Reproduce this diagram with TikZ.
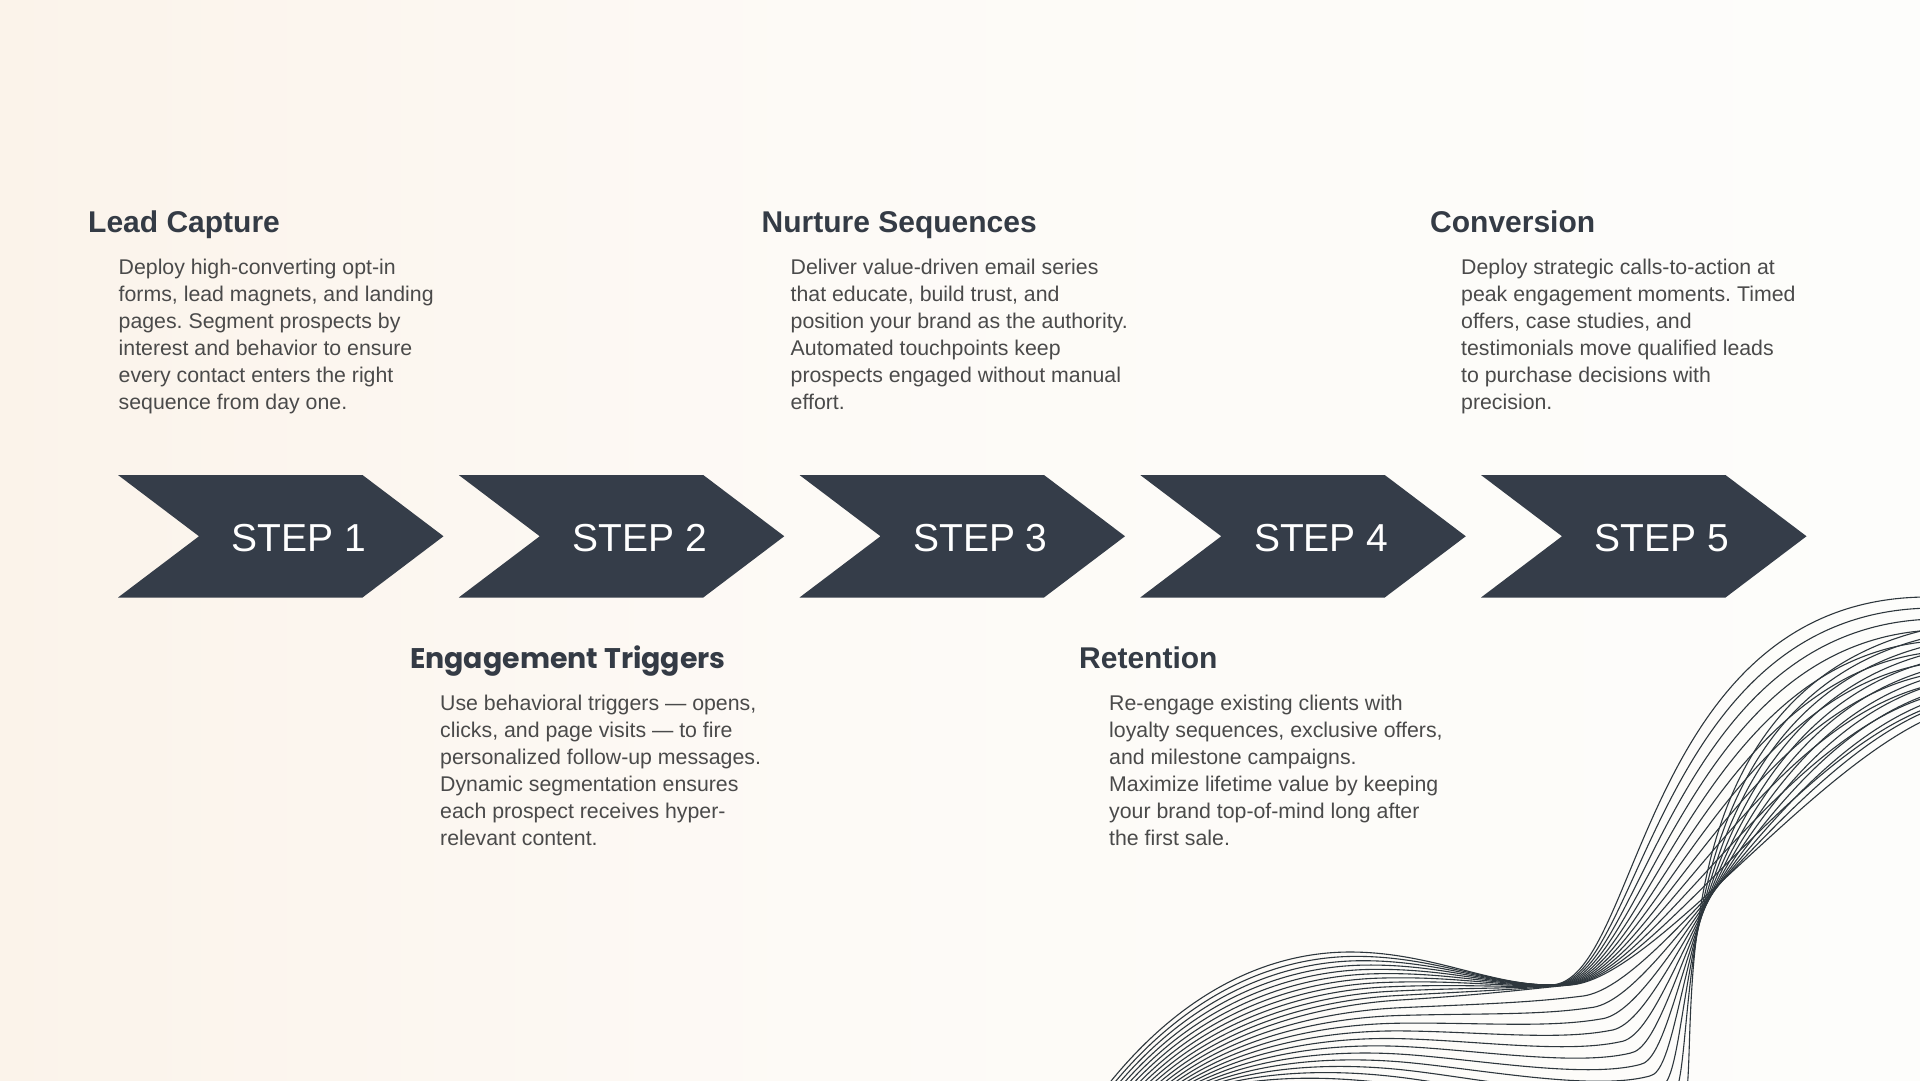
\documentclass[tikz,border=0pt]{standalone}
\usepackage{fontspec}
\setmainfont{Liberation Sans}
\newfontfamily\poppins{Poppins}
\usetikzlibrary{calc}
\definecolor{chevc}{HTML}{353D49}
\definecolor{titlec}{HTML}{343B45}
\definecolor{bodyc}{HTML}{4A4A4A}
\definecolor{wavec}{HTML}{2E373D}
\definecolor{bgA}{HTML}{FBF3EA}
\definecolor{bgB}{HTML}{FDFAF6}
\definecolor{bgC}{HTML}{FDFDFB}
\frenchspacing
\tikzset{
  ttl/.style={anchor=base west, inner sep=0pt, text=titlec, font=\fontsize{30}{36}\selectfont\bfseries},
  ettl/.style={anchor=base west, inner sep=0pt, text=titlec, font=\poppins\fontsize{28.4}{34}\selectfont\bfseries},
  bodytxt/.style={anchor=base west, inner sep=0pt, text=bodyc, font=\fontsize{21.3}{27}\selectfont},
  steplabel/.style={anchor=base, inner sep=0pt, text=white, font=\fontsize{39}{44}\selectfont},
  chevfill/.style={fill=chevc},
  wave/.style={draw=wavec, line width=1.1pt}
}
\begin{document}
\begin{tikzpicture}[x=1pt,y=-1pt]
\useasboundingbox (0,0) rectangle (1920,1080);
\shade[left color=bgA, right color=bgB] (0,0) rectangle (800,1080);
\shade[left color=bgB, right color=bgC] (799,0) rectangle (1920,1080);

% chevrons
\foreach \i in {1,...,5}{
  \pgfmathsetmacro\L{118+(\i-1)*340.75}
  \fill[chevfill] (\L,475) -- ++(244.5,0) -- ++(81,61.25) -- ++(-81,61.25) -- ++(-244.5,0) -- ++(81,-61.25) -- cycle;
  \node[steplabel] (step\i) at (\L+181,551) {STEP \i};
}

% titles and texts
\node[ttl] (t1) at (88,232) {Lead Capture};
\node[bodytxt] (b1) at (118.5,274) {\begin{tabular}[t]{@{}l@{}}Deploy high-converting opt-in\\forms, lead magnets, and landing\\pages. Segment prospects by\\interest and behavior to ensure\\every contact enters the right\\sequence from day one.\end{tabular}};

\node[ettl] (t2) at (410,668) {Engagement Triggers};
\node[bodytxt] (b2) at (440,710) {\begin{tabular}[t]{@{}l@{}}Use behavioral triggers — opens,\\clicks, and page visits — to fire\\personalized follow-up messages.\\Dynamic segmentation ensures\\each prospect receives hyper-\\relevant content.\end{tabular}};

\node[ttl] (t3) at (761.5,232) {Nurture Sequences};
\node[bodytxt] (b3) at (790.5,274) {\begin{tabular}[t]{@{}l@{}}Deliver value-driven email series\\that educate, build trust, and\\position your brand as the authority.\\Automated touchpoints keep\\prospects engaged without manual\\effort.\end{tabular}};

\node[ttl] (t4) at (1079,668) {Retention};
\node[bodytxt] (b4) at (1109,710) {\begin{tabular}[t]{@{}l@{}}Re-engage existing clients with\\loyalty sequences, exclusive offers,\\and milestone campaigns.\\Maximize lifetime value by keeping\\your brand top-of-mind long after\\the first sale.\end{tabular}};

\node[ttl] (t5) at (1430,232) {Conversion};
\node[bodytxt] (b5) at (1461,274) {\begin{tabular}[t]{@{}l@{}}Deploy strategic calls-to-action at\\peak engagement moments. Timed\\offers, case studies, and\\testimonials move qualified leads\\to purchase decisions with\\precision.\end{tabular}};

% wave lines: three key curves (a: top hump, m: diagonal, b: rising from below)
\coordinate (a0) at (1100,1095); \coordinate (m0) at (1150,1095); \coordinate (b0) at (1200,1092);
\coordinate (a1) at (1180,990);  \coordinate (m1) at (1220,1030); \coordinate (b1) at (1260,1075);
\coordinate (a2) at (1270,952);  \coordinate (m2) at (1320,1005); \coordinate (b2) at (1330,1075);
\coordinate (a3) at (1350,952);  \coordinate (m3) at (1400,1000); \coordinate (b3) at (1400,1085);
\coordinate (a4) at (1430,952);  \coordinate (m4) at (1480,995);  \coordinate (b4) at (1470,1095);
\coordinate (a5) at (1490,985);  \coordinate (m5) at (1520,990);  \coordinate (b5) at (1620,1130);
\coordinate (a6) at (1550,985);  \coordinate (m6) at (1570,985);  \coordinate (b6) at (1680,1110);
\coordinate (a7) at (1640,985);  \coordinate (m7) at (1650,980);  \coordinate (b7) at (1710,1100);
\coordinate (a8) at (1640,600);  \coordinate (m8) at (1800,780);  \coordinate (b8) at (1630,700);
\coordinate (a9) at (1925,597);  \coordinate (m9) at (1925,720);  \coordinate (b9) at (1925,630);
\begin{scope}
\clip (0,0) rectangle (1920,1080);
\foreach \k in {0,...,22}{
  \ifnum\k<12
    \def\P{a}\def\Q{m}\pgfmathsetmacro\s{\k/11}
  \else
    \def\P{m}\def\Q{b}\pgfmathsetmacro\s{(\k-11)/11}
  \fi
  \draw[wave] ($(\P0)!\s!(\Q0)$) .. controls ($(\P1)!\s!(\Q1)$) and ($(\P2)!\s!(\Q2)$) .. ($(\P3)!\s!(\Q3)$)
     .. controls ($(\P4)!\s!(\Q4)$) and ($(\P5)!\s!(\Q5)$) .. ($(\P6)!\s!(\Q6)$)
     .. controls ($(\P7)!\s!(\Q7)$) and ($(\P8)!\s!(\Q8)$) .. ($(\P9)!\s!(\Q9)$);
}
\end{scope}
\end{tikzpicture}
\end{document}
